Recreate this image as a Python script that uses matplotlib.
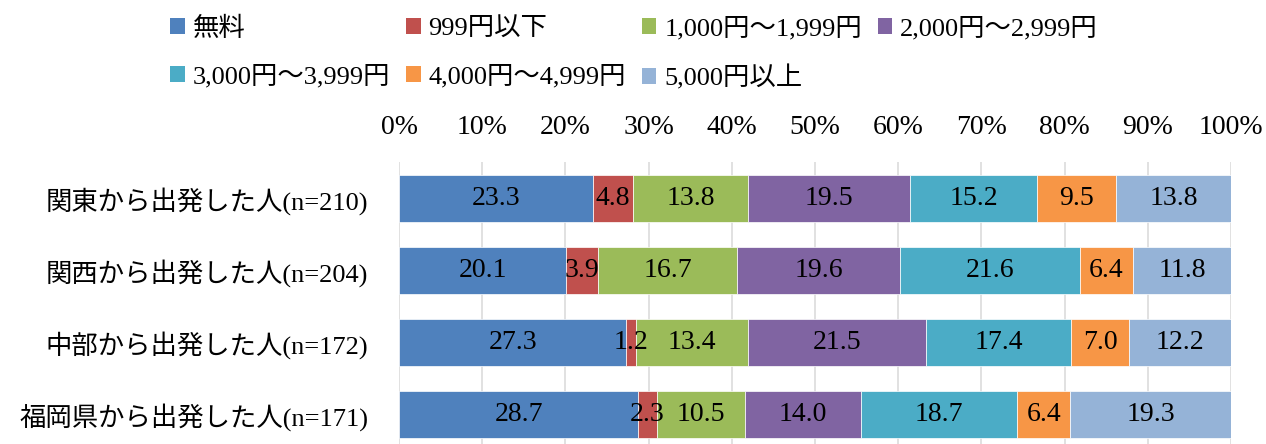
import numpy as np
import matplotlib
matplotlib.use("Agg")
import matplotlib.pyplot as plt
from matplotlib.patches import Patch

plt.rcParams['font.family'] = ['Liberation Serif', 'Noto Sans CJK JP']

# data
categories = ['関東から出発した人(n=210)', '関西から出発した人(n=204)',
              '中部から出発した人(n=172)', '福岡県から出発した人(n=171)']
series_names = ['無料', '999円以下', '1,000円～1,999円', '2,000円～2,999円',
                '3,000円～3,999円', '4,000円～4,999円', '5,000円以上']
free = [23.3, 20.1, 27.3, 28.7]
under_999 = [4.8, 3.9, 1.2, 2.3]
yen_1000 = [13.8, 16.7, 13.4, 10.5]
yen_2000 = [19.5, 19.6, 21.5, 14.0]
yen_3000 = [15.2, 21.6, 17.4, 18.7]
yen_4000 = [9.5, 6.4, 7.0, 6.4]
over_5000 = [13.8, 11.8, 12.2, 19.3]
colors = ['#4F81BD', '#C0504D', '#9BBB59', '#8064A2', '#4BACC6', '#F79646', '#95B3D7']

values = np.array([free, under_999, yen_1000, yen_2000, yen_3000, yen_4000, over_5000])
# 100% stacked like Excel: normalise each row to its total
shares = values / values.sum(axis=0) * 100

fig = plt.figure(figsize=(12.66, 4.44), dpi=100)
ax = fig.add_axes([399 / 1266, (444 - 450.5) / 444, 832 / 1266, 288 / 444])

y = np.arange(len(categories))
left = np.zeros(len(categories))
handles = []
for i, name in enumerate(series_names):
    bars = ax.barh(y, shares[i], left=left, height=0.65, color=colors[i],
                   edgecolor='white', linewidth=0.5, label=name)
    ax.bar_label(bars, labels=['%.1f' % v for v in values[i]], label_type='center',
                 fontsize=20, color='black')
    left += shares[i]
    handles.append(Patch(facecolor=colors[i], edgecolor='none'))

ax.set_xlim(0, 100)
ax.set_ylim(3.5, -0.5)
ax.set_yticks(y)
ax.set_yticklabels(categories, fontsize=19)
ax.set_xticks(np.arange(0, 101, 10))
ax.set_xticklabels(['%d%%' % v for v in range(0, 101, 10)], fontsize=20)
ax.xaxis.tick_top()
ax.tick_params(axis='x', length=0, pad=16)
ax.tick_params(axis='y', length=0, pad=22)
ax.grid(axis='x', color='#D9D9D9', linewidth=1.1)
ax.set_axisbelow(True)
for s in ax.spines.values():
    s.set_visible(False)

# legend filled column-wise, reorder so it reads row by row
order = [0, 4, 1, 5, 2, 6, 3]
fig.legend([handles[i] for i in order], [series_names[i] for i in order],
           loc='upper left', bbox_to_anchor=(165 / 1266, 0.975), ncol=4, frameon=False,
           fontsize=19, handlelength=0.55, handleheight=0.55, handletextpad=0.3,
           columnspacing=0.6, labelspacing=0.92, borderpad=0.2, borderaxespad=0)

fig.savefig('out.png', dpi=100)
